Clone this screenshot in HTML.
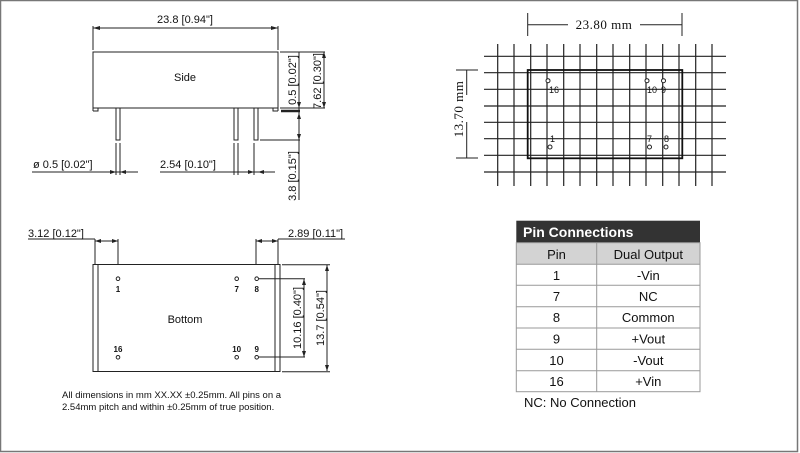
<!DOCTYPE html>
<html><head><meta charset="utf-8"><style>
html,body{margin:0;padding:0;background:#fff;}
svg{display:block;}
text{font-family:"Liberation Sans",sans-serif;fill:#111;}
.m{font-family:"Liberation Serif",serif;}
</style></head><body>
<svg width="800" height="453" viewBox="0 0 800 453" xmlns="http://www.w3.org/2000/svg">
<rect x="0.5" y="0.5" width="797" height="451" fill="#fff" stroke="#777" stroke-width="1.5"/>
<g stroke="#222" stroke-width="1" fill="none">
<!-- side view -->
<path d="M93,111 V52 H278 V111 M93,108 H278"/>
<path d="M93,111 H98 V108 M278,111 H273 V108"/>
<rect x="116" y="108" width="4" height="32"/>
<rect x="234" y="108" width="4" height="32"/>
<rect x="254" y="108" width="4" height="32"/>
<path d="M116,143 V175 M120,143 V175 M234,143 V175 M238,143 V175 M254,143 V175"/>
<path d="M93,26 V50 M278,26 V50 M93,28 H278"/>
<path d="M32,172 H138 M160,172 H275"/>
<path d="M280,52 H325 M280,108 H325 M299,52 V200 M324,52 V108 M260,140 H300"/>
<path d="M281,111 H300" stroke-width="2.5"/>
<!-- bottom view -->
<rect x="93" y="264.5" width="187" height="107"/>
<path d="M98,264.5 V371.5 M275,264.5 V371.5"/>
<path d="M28,239 H95 M95,239 V264 M118,239 V264 M95,241 H118"/>
<path d="M278,239 H345 M278,239 V264 M256,239 V264 M256,241 H278"/>
<path d="M259,278.7 H305 M259,357 H305 M304,279 V357"/>
<path d="M282,264.7 H330 M282,371.7 H330 M327,265 V371"/>
<circle cx="118" cy="278.7" r="1.8"/><circle cx="236.7" cy="278.7" r="1.8"/><circle cx="256.7" cy="278.7" r="1.8"/>
<circle cx="118" cy="357.3" r="1.8"/><circle cx="236.7" cy="357.3" r="1.8"/><circle cx="256.7" cy="357.3" r="1.8"/>
</g>
<g fill="#222">
<path d="M93,28 l7,-2 v4z M278,28 l-7,-2 v4z"/>
<path d="M116,172 l-6,-2 v4z M120,172 l6,-2 v4z M254,172 l-6,-2 v4z M258,172 l6,-2 v4z"/>
<path d="M324,52 l-2,6 h4z M324,108 l-2,-6 h4z M299,108 l-2,-6 h4z M299,113 l-2,6 h4z M299,140 l-2,-6 h4z"/>
<path d="M95,241 l6,-2 v4z M118,241 l-6,-2 v4z M256,241 l6,-2 v4z M278,241 l-6,-2 v4z"/>
<path d="M304,279 l-2,6 h4z M304,357 l-2,-6 h4z M327,265 l-2,6 h4z M327,371 l-2,-6 h4z"/>
</g>
<text x="185" y="23" font-size="11" text-anchor="middle">23.8 [0.94"]</text>
<text x="185" y="81" font-size="11" text-anchor="middle">Side</text>
<text x="33" y="168" font-size="11">ø 0.5 [0.02"]</text>
<text x="160" y="168" font-size="11">2.54 [0.10"]</text>
<text font-size="11" text-anchor="middle" transform="translate(296,80) rotate(-90)">0.5 [0.02"]</text>
<text font-size="11" text-anchor="middle" transform="translate(321,81) rotate(-90)">7.62 [0.30"]</text>
<text font-size="11" text-anchor="middle" transform="translate(296,176) rotate(-90)">3.8 [0.15"]</text>
<text x="28" y="237" font-size="11">3.12 [0.12"]</text>
<text x="288" y="237" font-size="11">2.89 [0.11"]</text>
<text font-size="11" text-anchor="middle" transform="translate(301,318) rotate(-90)">10.16 [0.40"]</text>
<text font-size="11" text-anchor="middle" transform="translate(324,318) rotate(-90)">13.7 [0.54"]</text>
<text x="185" y="323" font-size="11" text-anchor="middle">Bottom</text>
<g font-size="8" text-anchor="middle" font-weight="bold">
<text x="118" y="292">1</text><text x="236.7" y="292">7</text><text x="256.7" y="292">8</text>
<text x="118" y="352">16</text><text x="236.7" y="352">10</text><text x="256.7" y="352">9</text>
</g>
<text x="62" y="398" font-size="9.5">All dimensions in mm XX.XX ±0.25mm. All pins on a</text>
<text x="62" y="410" font-size="9.5">2.54mm pitch and within ±0.25mm of true position.</text>
<!-- grid -->
<g stroke="#222" stroke-width="1.2">
<path d="M497.7,44V186M514,44V186M530.7,44V186M547,44V186M563.7,44V186M580,44V186M596.7,44V186M613,44V186M629.7,44V186M646,44V186M662.7,44V186M679,44V186M695.7,44V186M712,44V186"/>
<path d="M484,56.3H726M484,72.7H726M484,89.3H726M484,106H726M484,122.3H726M484,138.7H726M484,155.3H726M484,172H726"/>
</g>
<rect x="527.7" y="70" width="154.6" height="88.3" fill="none" stroke="#111" stroke-width="1.8"/>
<g stroke="#222" stroke-width="1" fill="#fff">
<circle cx="548" cy="80.7" r="2"/><circle cx="647" cy="80.7" r="2"/><circle cx="663.5" cy="80.7" r="2"/>
<circle cx="550" cy="147" r="2"/><circle cx="649.5" cy="147" r="2"/><circle cx="666" cy="147" r="2"/>
</g>
<g font-size="9" fill="#111">
<text x="549" y="93">16</text><text x="647" y="93">10</text><text x="661" y="93">9</text>
<text x="550" y="142">1</text><text x="647" y="142">7</text><text x="664" y="142">8</text>
</g>
<g stroke="#222" stroke-width="1">
<path d="M527.7,13V36M682,13V36M527.7,24.7H568M640,24.7H682"/>
<path d="M456,70H478M456,158H478M466.7,70V95M466.7,122V158"/>
</g>
<text x="604" y="29" font-size="13" class="m" text-anchor="middle" letter-spacing="0.5">23.80 mm</text>
<text font-size="13" class="m" text-anchor="middle" letter-spacing="0.5" transform="translate(463,109) rotate(-90)">13.70 mm</text>
<!-- table -->
<rect x="516.3" y="220.7" width="183.7" height="22" fill="#333"/>
<text x="523" y="237" font-size="14" font-weight="bold" style="fill:#fff">Pin Connections</text>
<rect x="516.3" y="242.7" width="183.7" height="21.6" fill="#d3d3d3"/>
<g stroke="#999" stroke-width="1" fill="none">
<rect x="516.3" y="242.7" width="183.7" height="149"/>
<path d="M596.7,242.7V391.7M516.3,264.3H700M516.3,285.3H700M516.3,306.7H700M516.3,328H700M516.3,349.3H700M516.3,370.7H700"/>
</g>
<g font-size="13" text-anchor="middle">
<text x="556.5" y="259">Pin</text><text x="648.3" y="259">Dual Output</text>
<text x="556.5" y="280">1</text><text x="648.3" y="280">-Vin</text>
<text x="556.5" y="301">7</text><text x="648.3" y="301">NC</text>
<text x="556.5" y="322">8</text><text x="648.3" y="322">Common</text>
<text x="556.5" y="343.5">9</text><text x="648.3" y="343.5">+Vout</text>
<text x="556.5" y="365">10</text><text x="648.3" y="365">-Vout</text>
<text x="556.5" y="386">16</text><text x="648.3" y="386">+Vin</text>
</g>
<text x="524" y="407" font-size="13">NC: No Connection</text>
</svg>
</body></html>
